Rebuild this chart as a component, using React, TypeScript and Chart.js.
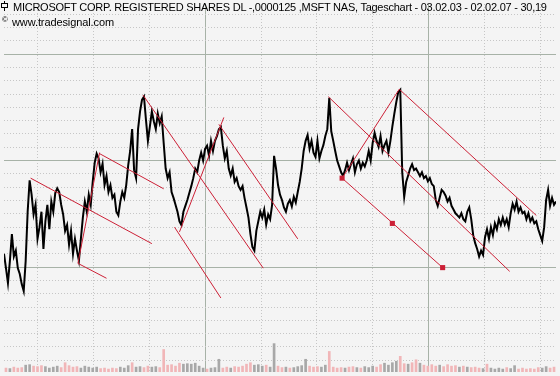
import React, { useEffect, useRef } from "react";
import { Chart, registerables } from "chart.js";

Chart.register(...registerables);

// Daily closes (sampled), price units
const closes: number[] = [
  24.25, 23.98, 23.70, 24.12, 24.62, 24.20, 24.31, 23.98, 23.87, 23.68,
  23.55, 24.12, 25.04, 25.63, 25.36, 24.99, 25.17, 24.53, 24.75, 25.04,
  24.34, 24.86, 25.17, 24.71, 25.23, 25.04, 25.39, 25.48, 25.41, 25.17,
  24.99, 24.68, 24.79, 24.42, 24.68, 24.25, 24.53, 24.31, 24.12, 24.53,
  24.93, 25.23, 25.04, 25.36, 25.17, 25.60, 25.96, 26.13, 26.04, 25.78,
  25.94, 25.54, 25.71, 25.41, 25.54, 25.30, 25.36, 25.04, 24.97, 25.23,
  25.41, 25.30, 25.54, 25.91, 26.18, 26.59, 25.82, 25.67, 26.59, 26.92,
  27.14, 27.20, 26.77, 26.37, 26.64, 26.92, 26.74, 26.59, 26.88, 26.70,
  26.83, 26.33, 25.85, 25.67, 25.78, 25.41, 25.30, 25.17, 25.04, 24.86,
  24.79, 25.04, 25.15, 25.26, 25.39, 25.52, 25.67, 25.85, 25.78, 26.00,
  26.15, 26.00, 26.22, 26.28, 26.09, 26.37, 26.18, 26.37, 26.46, 26.59,
  26.63, 26.28, 26.04, 26.18, 25.85, 25.72, 25.85, 25.60, 25.67, 25.52,
  25.45, 25.52, 25.30, 25.12, 24.93, 24.62, 24.38, 24.31, 24.68, 24.86,
  25.04, 24.93, 25.08, 24.80, 24.99, 24.90, 25.17, 26.09, 25.85, 25.54,
  25.36, 25.26, 25.12, 25.04, 25.19, 25.26, 25.14, 25.32, 25.21, 25.41,
  25.60, 25.85, 26.18, 26.37, 26.48, 26.22, 26.37, 26.15, 26.07, 26.37,
  26.04, 26.18, 26.29, 26.46, 26.59, 27.18, 26.55, 26.37, 26.18, 26.00,
  25.89, 25.78, 25.71, 25.82, 25.96, 25.82, 25.93, 26.04, 25.78, 25.93,
  26.00, 25.85, 25.96, 25.89, 26.00, 26.18, 26.00, 26.33, 26.52, 26.37,
  26.26, 26.46, 26.18, 26.29, 26.37, 26.15, 26.37, 26.64, 26.88, 27.10,
  27.29, 27.33, 25.78, 25.32, 25.60, 25.72, 25.85, 25.93, 25.82, 25.85,
  25.78, 25.71, 25.78, 25.67, 25.71, 25.61, 25.67, 25.56, 25.52, 25.26,
  25.15, 25.30, 25.45, 25.41, 25.34, 25.23, 25.30, 25.15, 25.08, 25.01,
  24.97, 24.93, 25.01, 24.90, 24.86, 25.04, 25.12, 24.90, 24.60, 24.45,
  24.34, 24.20, 24.31, 24.23, 24.56, 24.71, 24.53, 24.75, 24.60, 24.82,
  24.71, 24.90, 24.79, 24.93, 24.80, 24.90, 24.75, 25.01, 25.19, 25.08,
  25.23, 25.04, 25.12, 25.01, 25.04, 24.90, 25.01, 24.86, 24.93, 24.82,
  24.86, 24.71, 24.60, 24.49, 24.75, 25.26, 25.45, 25.15, 25.30, 25.17,
  25.23,
];

// Volume (millions), one bar every 2 samples
const volumes: number[] = [
  40, 35, 50, 40, 45, 70, 75, 60, 55, 65,
  55, 40, 50, 60, 45, 95, 65, 50, 55, 40,
  60, 50, 40, 50, 35, 40, 30, 40, 35, 50,
  40, 65, 95, 50, 55, 45, 60, 50, 55, 45,
  230, 70, 75, 60, 90, 80, 85, 80, 90, 60,
  40, 30, 40, 45, 130, 40, 50, 40, 55, 50,
  60, 80, 95, 70, 75, 60, 70, 50, 290, 60,
  45, 50, 40, 45, 55, 65, 130, 60, 50, 55,
  50, 70, 210, 50, 40, 45, 40, 50, 55, 45,
  40, 55, 45, 60, 50, 75, 90, 70, 95, 110,
  160, 85, 80, 95, 125, 90, 70, 60, 75, 60,
  70, 55, 75, 60, 65, 50, 60, 50, 45, 50,
  40, 35, 80, 40, 30, 40, 30, 45, 35, 65,
  30, 40, 30, 35, 30, 45, 40, 55, 40, 50,
];

// Trend lines: [startDay, startPrice, endDay, endPrice]
const trendLines: [number, number, number, number][] = [
  [13.5, 25.67, 75, 24.44],
  [37.5, 24.07, 52, 23.79],
  [37.5, 24.07, 48.5, 26.15],
  [48.5, 26.13, 81, 25.47],
  [70.5, 27.23, 131.5, 23.98],
  [86.5, 24.75, 110, 23.42],
  [89, 24.66, 111.5, 26.81],
  [109, 26.68, 149, 24.53],
  [164.5, 27.2, 256.5, 23.92],
  [200.5, 27.34, 270, 24.97],
  [171.5, 25.67, 222.5, 23.99],
  [171.5, 25.67, 200.5, 27.34],
];

const markerDays: number[] = [171.5, 197, 222.5];
const markerPrices: number[] = [25.67, 24.82, 23.99];

const yearStarts: number[] = [102, 215.5];
const quarterLength = 28.375;
const priceMin = 22.03;
const priceMax = 28.94;
const volumeMax = 3760;

const RED = "#cc2036";

export default function App() {
  const ref = useRef<HTMLCanvasElement>(null);

  useEffect(() => {
    const canvas = ref.current;
    if (!canvas) return;
    const lastDay = closes.length - 1;

    const quarterTicks: number[] = [];
    for (let k = -8; k <= 12; k++) {
      const v = yearStarts[0] + k * quarterLength;
      if (v > 0 && v < lastDay) quarterTicks.push(v);
    }
    const dotTicks: number[] = [];
    for (let v = Math.ceil(priceMin * 4) / 4; v <= priceMax; v += 0.25) dotTicks.push(v);
    const solidTicks: number[] = [];
    for (let v = Math.ceil(priceMin / 2) * 2; v <= priceMax; v += 2) solidTicks.push(v);

    const hiddenTicks = { display: false };
    const gridScale = (
      axis: "x" | "y",
      values: number[],
      color: string,
      dash: number[],
      min: number,
      max: number
    ) => ({
      type: "linear" as const,
      axis,
      position: axis === "x" ? ("bottom" as const) : ("left" as const),
      min,
      max,
      offset: false,
      ticks: hiddenTicks,
      grid: { color, lineWidth: 1, drawTicks: false, offset: false },
      border: { display: false, dash },
      afterBuildTicks: (s: any) => {
        s.ticks = values.map((v) => ({ value: v }));
      },
    });

    const datasets: any[] = [];
    trendLines.forEach((t) => {
      datasets.push({
        type: "line",
        data: [
          { x: t[0], y: t[1] },
          { x: t[2], y: t[3] },
        ],
        borderColor: RED,
        borderWidth: 1,
        pointRadius: 0,
        xAxisID: "x",
        yAxisID: "y",
        order: 0,
      });
    });
    datasets.push({
      type: "line",
      data: markerDays.map((d, i) => ({ x: d, y: markerPrices[i] })),
      showLine: false,
      pointStyle: "rect",
      pointRadius: 3.6,
      pointBorderWidth: 0,
      pointBackgroundColor: RED,
      xAxisID: "x",
      yAxisID: "y",
      order: 0,
    });
    datasets.push({
      type: "line",
      data: closes.map((c, i) => ({ x: i, y: c })),
      borderColor: "#000000",
      borderWidth: 2,
      pointRadius: 0,
      tension: 0,
      xAxisID: "x",
      yAxisID: "y",
      order: 1,
    });
    datasets.push({
      type: "bar",
      data: volumes.map((v, k) => ({ x: 2 * k + 1, y: v })),
      backgroundColor: volumes.map((_, k) =>
        (closes[2 * k + 2] ?? closes[2 * k]) >= closes[2 * k] ? "#a8a8a8" : "#f1b6b8"
      ),
      barThickness: 2,
      xAxisID: "x",
      yAxisID: "yv",
      order: 2,
    });

    const chart = new Chart(canvas, {
      type: "line",
      data: { datasets },
      options: {
        responsive: false,
        animation: false,
        devicePixelRatio: 1,
        parsing: true,
        layout: { padding: 0 },
        plugins: {
          legend: { display: false },
          tooltip: { enabled: false },
          title: { display: false },
        },
        scales: {
          x: gridScale("x", quarterTicks, "#c6c6c6", [1, 2], 0, lastDay),
          x2: gridScale("x", yearStarts, "#a7b2a7", [], 0, lastDay),
          y: gridScale("y", dotTicks, "#c6c6c6", [1, 2], priceMin, priceMax),
          y2: gridScale("y", solidTicks, "#a7b2a7", [], priceMin, priceMax),
          yv: { type: "linear", display: false, min: 0, max: volumeMax },
        } as any,
      },
    });
    return () => chart.destroy();
  }, []);

  const font = '"Liberation Sans", Arial, sans-serif';
  return (
    <div
      style={{
        position: "fixed",
        left: 0,
        top: 0,
        width: 560,
        height: 376,
        background: "#f4f4f4",
        overflow: "hidden",
      }}
    >
      <canvas ref={ref} width={560} height={376} style={{ display: "block" }} />
      <span style={{ position: "absolute", left: 4, top: 1, width: 1, height: 10, background: "#000" }} />
      <span
        style={{
          position: "absolute",
          left: 1,
          top: 3,
          width: 5,
          height: 3,
          border: "1px solid #000",
          background: "#f4f4f4",
        }}
      />
      <div
        style={{
          position: "absolute",
          left: 13,
          top: 1,
          font: `11px ${font}`,
          lineHeight: "13px",
          letterSpacing: "-0.25px",
          whiteSpace: "nowrap",
          color: "#000",
        }}
      >
        MICROSOFT CORP. REGISTERED SHARES DL -,0000125 ,MSFT NAS, Tageschart - 03.02.03 - 02.02.07 - 30,19
      </div>
      <div
        style={{
          position: "absolute",
          left: 2,
          top: 15,
          font: `8px ${font}`,
          lineHeight: "9px",
          color: "#000",
        }}
      >
        ©
      </div>
      <div
        style={{
          position: "absolute",
          left: 12,
          top: 16,
          font: `11px ${font}`,
          lineHeight: "13px",
          letterSpacing: "-0.1px",
          whiteSpace: "nowrap",
          color: "#000",
        }}
      >
        www.tradesignal.com
      </div>
    </div>
  );
}
